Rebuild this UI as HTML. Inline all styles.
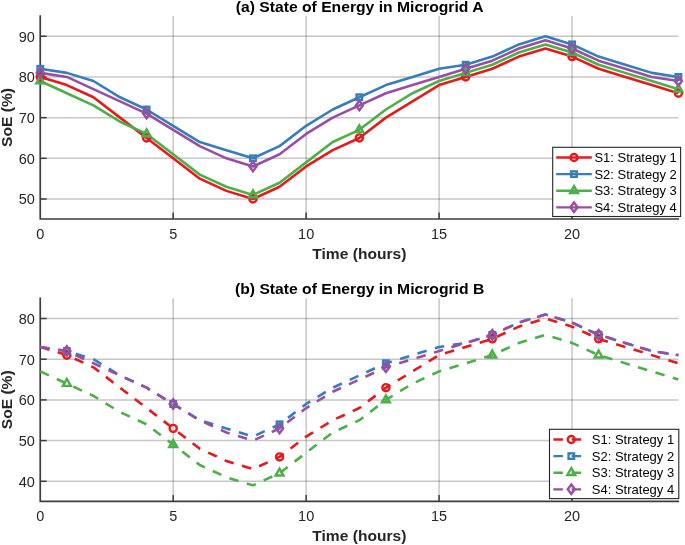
<!DOCTYPE html>
<html lang="en"><head><meta charset="utf-8"><title>State of Energy in Microgrids</title>
<style>html,body{margin:0;padding:0;background:#fff}body{width:685px;height:545px;overflow:hidden}</style></head>
<body>
<svg width="685" height="545" viewBox="0 0 685 545" style="display:block;filter:blur(0.3px)" font-family="'Liberation Sans', Arial, sans-serif">
<rect width="685" height="545" fill="#fff"/>
<line x1="173.19" y1="15.91" x2="173.19" y2="219.00" stroke="#262626" stroke-opacity="0.26" stroke-width="1.5"/>
<line x1="306.14" y1="15.91" x2="306.14" y2="219.00" stroke="#262626" stroke-opacity="0.26" stroke-width="1.5"/>
<line x1="439.09" y1="15.91" x2="439.09" y2="219.00" stroke="#262626" stroke-opacity="0.26" stroke-width="1.5"/>
<line x1="572.04" y1="15.91" x2="572.04" y2="219.00" stroke="#262626" stroke-opacity="0.26" stroke-width="1.5"/>
<line x1="40.24" y1="199.01" x2="678.40" y2="199.01" stroke="#262626" stroke-opacity="0.26" stroke-width="1.5"/>
<line x1="40.24" y1="158.32" x2="678.40" y2="158.32" stroke="#262626" stroke-opacity="0.26" stroke-width="1.5"/>
<line x1="40.24" y1="117.63" x2="678.40" y2="117.63" stroke="#262626" stroke-opacity="0.26" stroke-width="1.5"/>
<line x1="40.24" y1="76.94" x2="678.40" y2="76.94" stroke="#262626" stroke-opacity="0.26" stroke-width="1.5"/>
<line x1="40.24" y1="36.25" x2="678.40" y2="36.25" stroke="#262626" stroke-opacity="0.26" stroke-width="1.5"/>
<path d="M40.24 15.21V219.00H679.10" fill="none" stroke="#3c3c3c" stroke-width="1.7" stroke-linejoin="miter"/>
<text x="40.24" y="238.90" font-size="14.5" fill="#262626" text-anchor="middle">0</text>
<line x1="173.19" y1="219.00" x2="173.19" y2="212.60" stroke="#3c3c3c" stroke-width="1.5"/>
<text x="173.19" y="238.90" font-size="14.5" fill="#262626" text-anchor="middle">5</text>
<line x1="306.14" y1="219.00" x2="306.14" y2="212.60" stroke="#3c3c3c" stroke-width="1.5"/>
<text x="306.14" y="238.90" font-size="14.5" fill="#262626" text-anchor="middle">10</text>
<line x1="439.09" y1="219.00" x2="439.09" y2="212.60" stroke="#3c3c3c" stroke-width="1.5"/>
<text x="439.09" y="238.90" font-size="14.5" fill="#262626" text-anchor="middle">15</text>
<line x1="572.04" y1="219.00" x2="572.04" y2="212.60" stroke="#3c3c3c" stroke-width="1.5"/>
<text x="572.04" y="238.90" font-size="14.5" fill="#262626" text-anchor="middle">20</text>
<line x1="40.24" y1="199.01" x2="46.64" y2="199.01" stroke="#3c3c3c" stroke-width="1.5"/>
<text x="34.84" y="204.36" font-size="14.5" fill="#262626" text-anchor="end">50</text>
<line x1="40.24" y1="158.32" x2="46.64" y2="158.32" stroke="#3c3c3c" stroke-width="1.5"/>
<text x="34.84" y="163.67" font-size="14.5" fill="#262626" text-anchor="end">60</text>
<line x1="40.24" y1="117.63" x2="46.64" y2="117.63" stroke="#3c3c3c" stroke-width="1.5"/>
<text x="34.84" y="122.98" font-size="14.5" fill="#262626" text-anchor="end">70</text>
<line x1="40.24" y1="76.94" x2="46.64" y2="76.94" stroke="#3c3c3c" stroke-width="1.5"/>
<text x="34.84" y="82.29" font-size="14.5" fill="#262626" text-anchor="end">80</text>
<line x1="40.24" y1="36.25" x2="46.64" y2="36.25" stroke="#3c3c3c" stroke-width="1.5"/>
<text x="34.84" y="41.60" font-size="14.5" fill="#262626" text-anchor="end">90</text>
<polyline points="40.24,76.94 66.83,85.08 93.42,97.28 120.01,117.63 146.60,137.97 173.19,158.32 199.78,178.66 226.37,190.87 252.96,199.01 279.55,186.80 306.14,166.46 332.73,150.18 359.32,137.97 385.91,117.63 412.50,101.35 439.09,85.08 465.68,76.94 492.27,68.80 518.86,56.59 545.45,48.46 572.04,56.59 598.63,68.80 625.22,76.94 651.81,85.08 678.40,93.22" fill="none" stroke="#e41a1c" stroke-width="2.6" stroke-linejoin="round"/>
<polyline points="40.24,68.80 66.83,72.87 93.42,81.01 120.01,97.28 146.60,109.49 173.19,125.77 199.78,142.04 226.37,150.18 252.96,158.32 279.55,146.11 306.14,125.77 332.73,109.49 359.32,97.28 385.91,85.08 412.50,76.94 439.09,68.80 465.68,64.73 492.27,56.59 518.86,44.39 545.45,36.25 572.04,44.39 598.63,56.59 625.22,64.73 651.81,72.87 678.40,76.94" fill="none" stroke="#377eb8" stroke-width="2.6" stroke-linejoin="round"/>
<polyline points="40.24,81.01 66.83,93.22 93.42,105.42 120.01,121.70 146.60,133.91 173.19,154.25 199.78,174.60 226.37,186.80 252.96,194.94 279.55,182.73 306.14,162.39 332.73,142.04 359.32,129.84 385.91,109.49 412.50,93.22 439.09,81.01 465.68,72.87 492.27,64.73 518.86,52.53 545.45,44.39 572.04,52.53 598.63,64.73 625.22,72.87 651.81,81.01 678.40,89.15" fill="none" stroke="#4daf4a" stroke-width="2.6" stroke-linejoin="round"/>
<polyline points="40.24,72.87 66.83,76.94 93.42,89.15 120.01,101.35 146.60,113.56 173.19,129.84 199.78,146.11 226.37,158.32 252.96,166.46 279.55,154.25 306.14,133.91 332.73,117.63 359.32,105.42 385.91,93.22 412.50,85.08 439.09,76.94 465.68,68.80 492.27,60.66 518.86,48.46 545.45,40.32 572.04,48.46 598.63,60.66 625.22,68.80 651.81,76.94 678.40,81.01" fill="none" stroke="#984ea3" stroke-width="2.6" stroke-linejoin="round"/>
<circle cx="40.24" cy="76.94" r="3.55" fill="none" stroke="#e41a1c" stroke-width="2.4"/>
<circle cx="146.60" cy="137.97" r="3.55" fill="none" stroke="#e41a1c" stroke-width="2.4"/>
<circle cx="252.96" cy="199.01" r="3.55" fill="none" stroke="#e41a1c" stroke-width="2.4"/>
<circle cx="359.32" cy="137.97" r="3.55" fill="none" stroke="#e41a1c" stroke-width="2.4"/>
<circle cx="465.68" cy="76.94" r="3.55" fill="none" stroke="#e41a1c" stroke-width="2.4"/>
<circle cx="572.04" cy="56.59" r="3.55" fill="none" stroke="#e41a1c" stroke-width="2.4"/>
<circle cx="678.40" cy="93.22" r="3.55" fill="none" stroke="#e41a1c" stroke-width="2.4"/>
<rect x="37.49" y="66.05" width="5.50" height="5.50" fill="none" stroke="#377eb8" stroke-width="2.4"/>
<rect x="143.85" y="106.74" width="5.50" height="5.50" fill="none" stroke="#377eb8" stroke-width="2.4"/>
<rect x="250.21" y="155.57" width="5.50" height="5.50" fill="none" stroke="#377eb8" stroke-width="2.4"/>
<rect x="356.57" y="94.53" width="5.50" height="5.50" fill="none" stroke="#377eb8" stroke-width="2.4"/>
<rect x="462.93" y="61.98" width="5.50" height="5.50" fill="none" stroke="#377eb8" stroke-width="2.4"/>
<rect x="569.29" y="41.64" width="5.50" height="5.50" fill="none" stroke="#377eb8" stroke-width="2.4"/>
<rect x="675.65" y="74.19" width="5.50" height="5.50" fill="none" stroke="#377eb8" stroke-width="2.4"/>
<path d="M40.24 76.41L44.19 83.31L36.29 83.31Z" fill="none" stroke="#4daf4a" stroke-width="2.4" stroke-linejoin="miter"/>
<path d="M146.60 129.31L150.55 136.21L142.65 136.21Z" fill="none" stroke="#4daf4a" stroke-width="2.4" stroke-linejoin="miter"/>
<path d="M252.96 190.34L256.91 197.24L249.01 197.24Z" fill="none" stroke="#4daf4a" stroke-width="2.4" stroke-linejoin="miter"/>
<path d="M359.32 125.24L363.27 132.14L355.37 132.14Z" fill="none" stroke="#4daf4a" stroke-width="2.4" stroke-linejoin="miter"/>
<path d="M465.68 68.27L469.63 75.17L461.73 75.17Z" fill="none" stroke="#4daf4a" stroke-width="2.4" stroke-linejoin="miter"/>
<path d="M572.04 47.93L575.99 54.83L568.09 54.83Z" fill="none" stroke="#4daf4a" stroke-width="2.4" stroke-linejoin="miter"/>
<path d="M678.40 84.55L682.35 91.45L674.45 91.45Z" fill="none" stroke="#4daf4a" stroke-width="2.4" stroke-linejoin="miter"/>
<path d="M40.24 68.12L43.79 72.87L40.24 77.62L36.69 72.87Z" fill="none" stroke="#984ea3" stroke-width="2.4" stroke-linejoin="miter"/>
<path d="M146.60 108.81L150.15 113.56L146.60 118.31L143.05 113.56Z" fill="none" stroke="#984ea3" stroke-width="2.4" stroke-linejoin="miter"/>
<path d="M252.96 161.71L256.51 166.46L252.96 171.21L249.41 166.46Z" fill="none" stroke="#984ea3" stroke-width="2.4" stroke-linejoin="miter"/>
<path d="M359.32 100.67L362.87 105.42L359.32 110.17L355.77 105.42Z" fill="none" stroke="#984ea3" stroke-width="2.4" stroke-linejoin="miter"/>
<path d="M465.68 64.05L469.23 68.80L465.68 73.55L462.13 68.80Z" fill="none" stroke="#984ea3" stroke-width="2.4" stroke-linejoin="miter"/>
<path d="M572.04 43.71L575.59 48.46L572.04 53.21L568.49 48.46Z" fill="none" stroke="#984ea3" stroke-width="2.4" stroke-linejoin="miter"/>
<path d="M678.40 76.26L681.95 81.01L678.40 85.76L674.85 81.01Z" fill="none" stroke="#984ea3" stroke-width="2.4" stroke-linejoin="miter"/>
<text transform="translate(359.32 258.60) scale(1 0.95)" font-size="15.6" font-weight="bold" fill="#262626" text-anchor="middle">Time (hours)</text>
<text transform="translate(12.1 117.45) rotate(-90) scale(1 0.95)" font-size="15.6" font-weight="bold" fill="#262626" text-anchor="middle">SoE (%)</text>
<text transform="translate(359.62 11.80) scale(1 0.95)" font-size="15.7" font-weight="bold" fill="#000" text-anchor="middle">(a) State of Energy in Microgrid A</text>
<rect x="552.7" y="147.30" width="127.90" height="69.20" fill="#fff" stroke="#262626" stroke-width="1.1"/>
<line x1="556.2" y1="157.50" x2="591.8" y2="157.50" stroke="#e41a1c" stroke-width="2.35"/>
<circle cx="574.00" cy="157.50" r="3.55" fill="none" stroke="#e41a1c" stroke-width="2.4"/>
<text x="594.4" y="162.10" font-size="13" fill="#000">S1: Strategy 1</text>
<line x1="556.2" y1="174.10" x2="591.8" y2="174.10" stroke="#377eb8" stroke-width="2.35"/>
<rect x="571.25" y="171.35" width="5.50" height="5.50" fill="none" stroke="#377eb8" stroke-width="2.4"/>
<text x="594.4" y="178.70" font-size="13" fill="#000">S2: Strategy 2</text>
<line x1="556.2" y1="190.70" x2="591.8" y2="190.70" stroke="#4daf4a" stroke-width="2.35"/>
<path d="M574.00 186.10L577.95 193.00L570.05 193.00Z" fill="none" stroke="#4daf4a" stroke-width="2.4" stroke-linejoin="miter"/>
<text x="594.4" y="195.30" font-size="13" fill="#000">S3: Strategy 3</text>
<line x1="556.2" y1="207.30" x2="591.8" y2="207.30" stroke="#984ea3" stroke-width="2.35"/>
<path d="M574.00 202.55L577.55 207.30L574.00 212.05L570.45 207.30Z" fill="none" stroke="#984ea3" stroke-width="2.4" stroke-linejoin="miter"/>
<text x="594.4" y="211.90" font-size="13" fill="#000">S4: Strategy 4</text>
<line x1="173.19" y1="298.15" x2="173.19" y2="501.40" stroke="#262626" stroke-opacity="0.26" stroke-width="1.5"/>
<line x1="306.14" y1="298.15" x2="306.14" y2="501.40" stroke="#262626" stroke-opacity="0.26" stroke-width="1.5"/>
<line x1="439.09" y1="298.15" x2="439.09" y2="501.40" stroke="#262626" stroke-opacity="0.26" stroke-width="1.5"/>
<line x1="572.04" y1="298.15" x2="572.04" y2="501.40" stroke="#262626" stroke-opacity="0.26" stroke-width="1.5"/>
<line x1="40.24" y1="481.30" x2="678.40" y2="481.30" stroke="#262626" stroke-opacity="0.26" stroke-width="1.5"/>
<line x1="40.24" y1="440.60" x2="678.40" y2="440.60" stroke="#262626" stroke-opacity="0.26" stroke-width="1.5"/>
<line x1="40.24" y1="399.90" x2="678.40" y2="399.90" stroke="#262626" stroke-opacity="0.26" stroke-width="1.5"/>
<line x1="40.24" y1="359.20" x2="678.40" y2="359.20" stroke="#262626" stroke-opacity="0.26" stroke-width="1.5"/>
<line x1="40.24" y1="318.50" x2="678.40" y2="318.50" stroke="#262626" stroke-opacity="0.26" stroke-width="1.5"/>
<path d="M40.24 297.45V501.40H679.10" fill="none" stroke="#3c3c3c" stroke-width="1.7" stroke-linejoin="miter"/>
<text x="40.24" y="521.30" font-size="14.5" fill="#262626" text-anchor="middle">0</text>
<line x1="173.19" y1="501.40" x2="173.19" y2="495.00" stroke="#3c3c3c" stroke-width="1.5"/>
<text x="173.19" y="521.30" font-size="14.5" fill="#262626" text-anchor="middle">5</text>
<line x1="306.14" y1="501.40" x2="306.14" y2="495.00" stroke="#3c3c3c" stroke-width="1.5"/>
<text x="306.14" y="521.30" font-size="14.5" fill="#262626" text-anchor="middle">10</text>
<line x1="439.09" y1="501.40" x2="439.09" y2="495.00" stroke="#3c3c3c" stroke-width="1.5"/>
<text x="439.09" y="521.30" font-size="14.5" fill="#262626" text-anchor="middle">15</text>
<line x1="572.04" y1="501.40" x2="572.04" y2="495.00" stroke="#3c3c3c" stroke-width="1.5"/>
<text x="572.04" y="521.30" font-size="14.5" fill="#262626" text-anchor="middle">20</text>
<line x1="40.24" y1="481.30" x2="46.64" y2="481.30" stroke="#3c3c3c" stroke-width="1.5"/>
<text x="34.84" y="486.65" font-size="14.5" fill="#262626" text-anchor="end">40</text>
<line x1="40.24" y1="440.60" x2="46.64" y2="440.60" stroke="#3c3c3c" stroke-width="1.5"/>
<text x="34.84" y="445.95" font-size="14.5" fill="#262626" text-anchor="end">50</text>
<line x1="40.24" y1="399.90" x2="46.64" y2="399.90" stroke="#3c3c3c" stroke-width="1.5"/>
<text x="34.84" y="405.25" font-size="14.5" fill="#262626" text-anchor="end">60</text>
<line x1="40.24" y1="359.20" x2="46.64" y2="359.20" stroke="#3c3c3c" stroke-width="1.5"/>
<text x="34.84" y="364.55" font-size="14.5" fill="#262626" text-anchor="end">70</text>
<line x1="40.24" y1="318.50" x2="46.64" y2="318.50" stroke="#3c3c3c" stroke-width="1.5"/>
<text x="34.84" y="323.85" font-size="14.5" fill="#262626" text-anchor="end">80</text>
<polyline points="40.24,346.99 66.83,355.13 93.42,367.34 120.01,387.69 146.60,408.04 173.19,428.39 199.78,448.74 226.37,460.95 252.96,469.09 279.55,456.88 306.14,436.53 332.73,420.25 359.32,408.04 385.91,387.69 412.50,371.41 439.09,355.13 465.68,346.99 492.27,338.85 518.86,326.64 545.45,318.50 572.04,326.64 598.63,338.85 625.22,346.99 651.81,355.13 678.40,363.27" fill="none" stroke="#e41a1c" stroke-width="2.6" stroke-linejoin="round" stroke-dasharray="9.5 8.7"/>
<polyline points="40.24,346.99 66.83,351.06 93.42,359.20 120.01,375.48 146.60,387.69 173.19,403.97 199.78,420.25 226.37,428.39 252.96,436.53 279.55,424.32 306.14,403.97 332.73,387.69 359.32,375.48 385.91,363.27 412.50,355.13 439.09,346.99 465.68,342.92 492.27,334.78 518.86,322.57 545.45,314.43 572.04,322.57 598.63,334.78 625.22,342.92 651.81,351.06 678.40,355.13" fill="none" stroke="#377eb8" stroke-width="2.6" stroke-linejoin="round" stroke-dasharray="9.5 8.7"/>
<polyline points="40.24,371.41 66.83,383.62 93.42,395.83 120.01,412.11 146.60,424.32 173.19,444.67 199.78,465.02 226.37,477.23 252.96,485.37 279.55,473.16 306.14,452.81 332.73,432.46 359.32,420.25 385.91,399.90 412.50,383.62 439.09,371.41 465.68,363.27 492.27,355.13 518.86,342.92 545.45,334.78 572.04,342.92 598.63,355.13 625.22,363.27 651.81,371.41 678.40,379.55" fill="none" stroke="#4daf4a" stroke-width="2.6" stroke-linejoin="round" stroke-dasharray="9.5 8.7"/>
<polyline points="40.24,346.99 66.83,351.06 93.42,363.27 120.01,375.48 146.60,387.69 173.19,403.97 199.78,420.25 226.37,432.46 252.96,440.60 279.55,428.39 306.14,408.04 332.73,391.76 359.32,379.55 385.91,367.34 412.50,359.20 439.09,351.06 465.68,342.92 492.27,334.78 518.86,322.57 545.45,314.43 572.04,322.57 598.63,334.78 625.22,342.92 651.81,351.06 678.40,355.13" fill="none" stroke="#984ea3" stroke-width="2.6" stroke-linejoin="round" stroke-dasharray="9.5 8.7"/>
<circle cx="66.83" cy="355.13" r="3.55" fill="none" stroke="#e41a1c" stroke-width="2.4"/>
<circle cx="173.19" cy="428.39" r="3.55" fill="none" stroke="#e41a1c" stroke-width="2.4"/>
<circle cx="279.55" cy="456.88" r="3.55" fill="none" stroke="#e41a1c" stroke-width="2.4"/>
<circle cx="385.91" cy="387.69" r="3.55" fill="none" stroke="#e41a1c" stroke-width="2.4"/>
<circle cx="492.27" cy="338.85" r="3.55" fill="none" stroke="#e41a1c" stroke-width="2.4"/>
<circle cx="598.63" cy="338.85" r="3.55" fill="none" stroke="#e41a1c" stroke-width="2.4"/>
<rect x="64.08" y="348.31" width="5.50" height="5.50" fill="none" stroke="#377eb8" stroke-width="2.4"/>
<rect x="170.44" y="401.22" width="5.50" height="5.50" fill="none" stroke="#377eb8" stroke-width="2.4"/>
<rect x="276.80" y="421.57" width="5.50" height="5.50" fill="none" stroke="#377eb8" stroke-width="2.4"/>
<rect x="383.16" y="360.52" width="5.50" height="5.50" fill="none" stroke="#377eb8" stroke-width="2.4"/>
<rect x="489.52" y="332.03" width="5.50" height="5.50" fill="none" stroke="#377eb8" stroke-width="2.4"/>
<rect x="595.88" y="332.03" width="5.50" height="5.50" fill="none" stroke="#377eb8" stroke-width="2.4"/>
<path d="M66.83 379.02L70.78 385.92L62.88 385.92Z" fill="none" stroke="#4daf4a" stroke-width="2.4" stroke-linejoin="miter"/>
<path d="M173.19 440.07L177.14 446.97L169.24 446.97Z" fill="none" stroke="#4daf4a" stroke-width="2.4" stroke-linejoin="miter"/>
<path d="M279.55 468.56L283.50 475.46L275.60 475.46Z" fill="none" stroke="#4daf4a" stroke-width="2.4" stroke-linejoin="miter"/>
<path d="M385.91 395.30L389.86 402.20L381.96 402.20Z" fill="none" stroke="#4daf4a" stroke-width="2.4" stroke-linejoin="miter"/>
<path d="M492.27 350.53L496.22 357.43L488.32 357.43Z" fill="none" stroke="#4daf4a" stroke-width="2.4" stroke-linejoin="miter"/>
<path d="M598.63 350.53L602.58 357.43L594.68 357.43Z" fill="none" stroke="#4daf4a" stroke-width="2.4" stroke-linejoin="miter"/>
<path d="M66.83 346.31L70.38 351.06L66.83 355.81L63.28 351.06Z" fill="none" stroke="#984ea3" stroke-width="2.4" stroke-linejoin="miter"/>
<path d="M173.19 399.22L176.74 403.97L173.19 408.72L169.64 403.97Z" fill="none" stroke="#984ea3" stroke-width="2.4" stroke-linejoin="miter"/>
<path d="M279.55 423.64L283.10 428.39L279.55 433.14L276.00 428.39Z" fill="none" stroke="#984ea3" stroke-width="2.4" stroke-linejoin="miter"/>
<path d="M385.91 362.59L389.46 367.34L385.91 372.09L382.36 367.34Z" fill="none" stroke="#984ea3" stroke-width="2.4" stroke-linejoin="miter"/>
<path d="M492.27 330.03L495.82 334.78L492.27 339.53L488.72 334.78Z" fill="none" stroke="#984ea3" stroke-width="2.4" stroke-linejoin="miter"/>
<path d="M598.63 330.03L602.18 334.78L598.63 339.53L595.08 334.78Z" fill="none" stroke="#984ea3" stroke-width="2.4" stroke-linejoin="miter"/>
<text transform="translate(359.32 541.00) scale(1 0.95)" font-size="15.6" font-weight="bold" fill="#262626" text-anchor="middle">Time (hours)</text>
<text transform="translate(12.1 399.77) rotate(-90) scale(1 0.95)" font-size="15.6" font-weight="bold" fill="#262626" text-anchor="middle">SoE (%)</text>
<text transform="translate(359.62 294.20) scale(1 0.95)" font-size="15.7" font-weight="bold" fill="#000" text-anchor="middle">(b) State of Energy in Microgrid B</text>
<rect x="549.5" y="429.30" width="129.30" height="69.30" fill="#fff" stroke="#262626" stroke-width="1.1"/>
<line x1="553.4" y1="439.50" x2="589" y2="439.50" stroke="#e41a1c" stroke-width="2.35" stroke-dasharray="9.5 8.7"/>
<circle cx="571.30" cy="439.50" r="3.55" fill="none" stroke="#e41a1c" stroke-width="2.4"/>
<text x="591.8" y="444.10" font-size="13" fill="#000">S1: Strategy 1</text>
<line x1="553.4" y1="456.10" x2="589" y2="456.10" stroke="#377eb8" stroke-width="2.35" stroke-dasharray="9.5 8.7"/>
<rect x="568.55" y="453.35" width="5.50" height="5.50" fill="none" stroke="#377eb8" stroke-width="2.4"/>
<text x="591.8" y="460.70" font-size="13" fill="#000">S2: Strategy 2</text>
<line x1="553.4" y1="472.70" x2="589" y2="472.70" stroke="#4daf4a" stroke-width="2.35" stroke-dasharray="9.5 8.7"/>
<path d="M571.30 468.10L575.25 475.00L567.35 475.00Z" fill="none" stroke="#4daf4a" stroke-width="2.4" stroke-linejoin="miter"/>
<text x="591.8" y="477.30" font-size="13" fill="#000">S3: Strategy 3</text>
<line x1="553.4" y1="489.30" x2="589" y2="489.30" stroke="#984ea3" stroke-width="2.35" stroke-dasharray="9.5 8.7"/>
<path d="M571.30 484.55L574.85 489.30L571.30 494.05L567.75 489.30Z" fill="none" stroke="#984ea3" stroke-width="2.4" stroke-linejoin="miter"/>
<text x="591.8" y="493.90" font-size="13" fill="#000">S4: Strategy 4</text>
</svg>
</body></html>
